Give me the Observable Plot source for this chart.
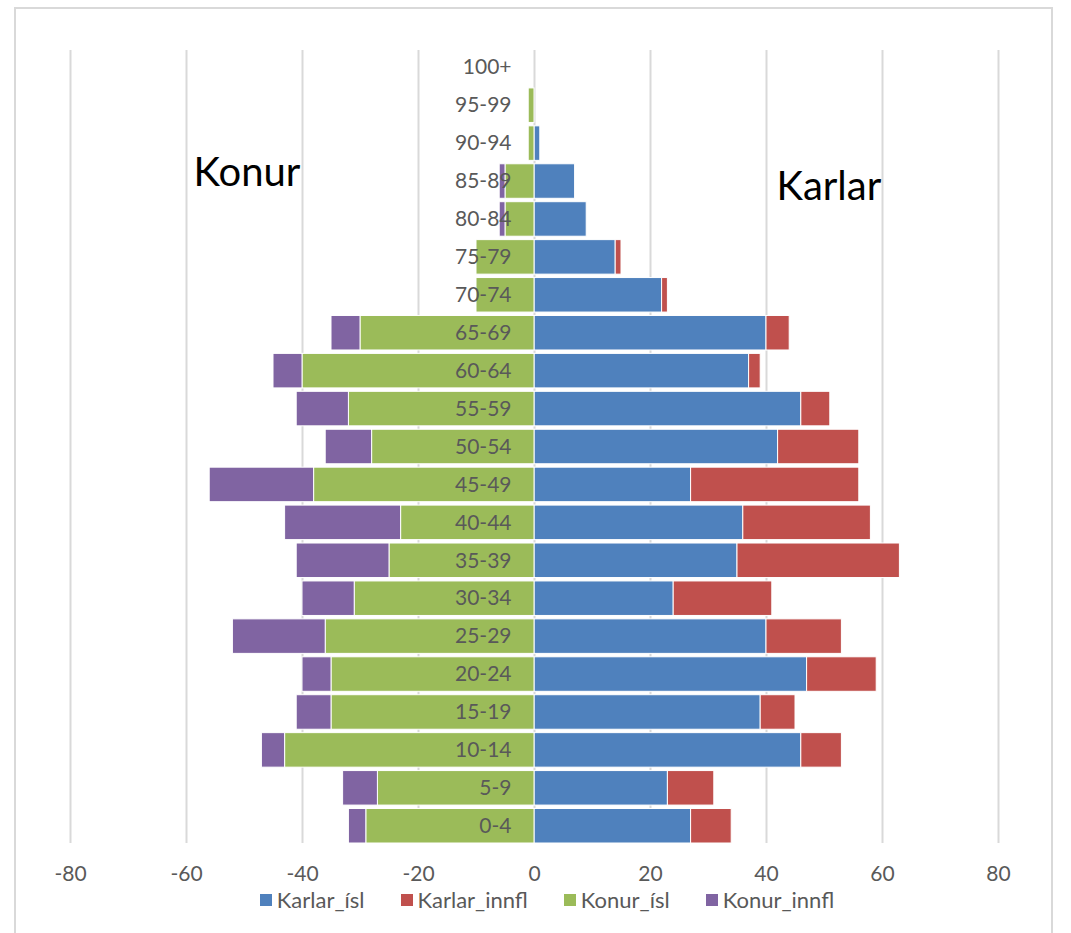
<!DOCTYPE html>
<html>
<head>
<meta charset="utf-8">
<script src="https://cdn.jsdelivr.net/npm/d3@7"></script>
<script src="https://cdn.jsdelivr.net/npm/@observablehq/plot@0.6"></script>
<style>
  html, body { margin: 0; padding: 0; background: #fff; }
  body { width: 1071px; height: 933px; position: relative; overflow: hidden; font-family: Lato, "Open Sans", sans-serif; }
  #frame { position: absolute; left: 14px; top: 7px; width: 1039px; height: 1000px; border: 2px solid #d9d9d9; box-sizing: border-box; }
  #chart { position: absolute; left: 0; top: 0; }
  #legend { position: absolute; top: 886px; left: 0; width: 1094px; display: flex; justify-content: center; gap: 36px; font-size: 22px; color: #595959; }
  #legend .item { display: flex; align-items: center; gap: 5px; }
  #legend .sw { width: 12px; height: 12px; display: inline-block; }
</style>
</head>
<body>
<div id="frame"></div>
<div id="chart"></div>
<div id="legend"></div>
<script>
const ageGroups = ["0-4","5-9","10-14","15-19","20-24","25-29","30-34","35-39","40-44","45-49","50-54","55-59","60-64","65-69","70-74","75-79","80-84","85-89","90-94","95-99","100+"];
const karlarIsl   = [27,23,46,39,47,40,24,35,36,27,42,46,37,40,22,14,9,7,1,0,0];
const karlarInnfl = [7,8,7,6,12,13,17,28,22,29,14,5,2,4,1,1,0,0,0,0,0];
const konurIsl    = [29,27,43,35,35,36,31,25,23,38,28,32,40,30,10,10,5,5,1,1,0];
const konurInnfl  = [3,6,4,6,5,16,9,16,20,18,8,9,5,5,0,0,1,1,0,0,0];
const seriesNames = ["Karlar_ísl","Karlar_innfl","Konur_ísl","Konur_innfl"];
const seriesColors = ["#4f81bd","#c0504d","#9bbb59","#8064a2"];
const xTicks = [-80,-60,-40,-20,0,20,40,60,80];
const sideLabels = ["Konur","Karlar"];

const rows = [];
ageGroups.forEach((age, i) => {
  rows.push({age, series: seriesNames[0], value: karlarIsl[i]});
  rows.push({age, series: seriesNames[1], value: karlarInnfl[i]});
  rows.push({age, series: seriesNames[2], value: -konurIsl[i]});
  rows.push({age, series: seriesNames[3], value: -konurInnfl[i]});
});

const chart = Plot.plot({
  width: 1071,
  height: 890,
  marginTop: 50,
  marginBottom: 47,
  marginLeft: 70,
  marginRight: 73,
  style: {fontFamily: "Lato, 'Open Sans', sans-serif", background: "transparent"},
  x: {domain: [-80, 80], ticks: xTicks},
  y: {domain: ageGroups.slice().reverse(), type: "band", paddingInner: 0.09, paddingOuter: 0, round: false, axis: null},
  color: {domain: seriesNames, range: seriesColors},
  marks: [
    Plot.ruleX(xTicks, {stroke: "#d9d9d9", strokeWidth: 2}),
    Plot.barX(rows, Plot.stackX({y: "age", x: "value", fill: "series", stroke: "white", strokeWidth: 1, order: null})),
    Plot.text(ageGroups, {x: 0, y: d => d, text: d => d, textAnchor: "end", dx: -23, fill: "#595959", fontSize: 21}),
    Plot.text([sideLabels[0]], {frameAnchor: "top-left", text: d => d, textAnchor: "start", dx: 123, dy: 107, fontSize: 40, fill: "#000"}),
    Plot.text([sideLabels[1]], {frameAnchor: "top-left", text: d => d, textAnchor: "start", dx: 706, dy: 121, fontSize: 40, fill: "#000"}),
    Plot.axisX({ticks: xTicks, tickFormat: d => String(d), tickSize: 0, tickPadding: 23, fontSize: 21, color: "#595959", label: null})
  ]
});
document.getElementById("chart").appendChild(chart);

const legend = document.getElementById("legend");
seriesNames.forEach((name, i) => {
  const item = document.createElement("div");
  item.className = "item";
  const sw = document.createElement("span");
  sw.className = "sw";
  sw.style.background = seriesColors[i];
  const label = document.createElement("span");
  label.textContent = name;
  item.appendChild(sw);
  item.appendChild(label);
  legend.appendChild(item);
});
</script>
</body>
</html>
